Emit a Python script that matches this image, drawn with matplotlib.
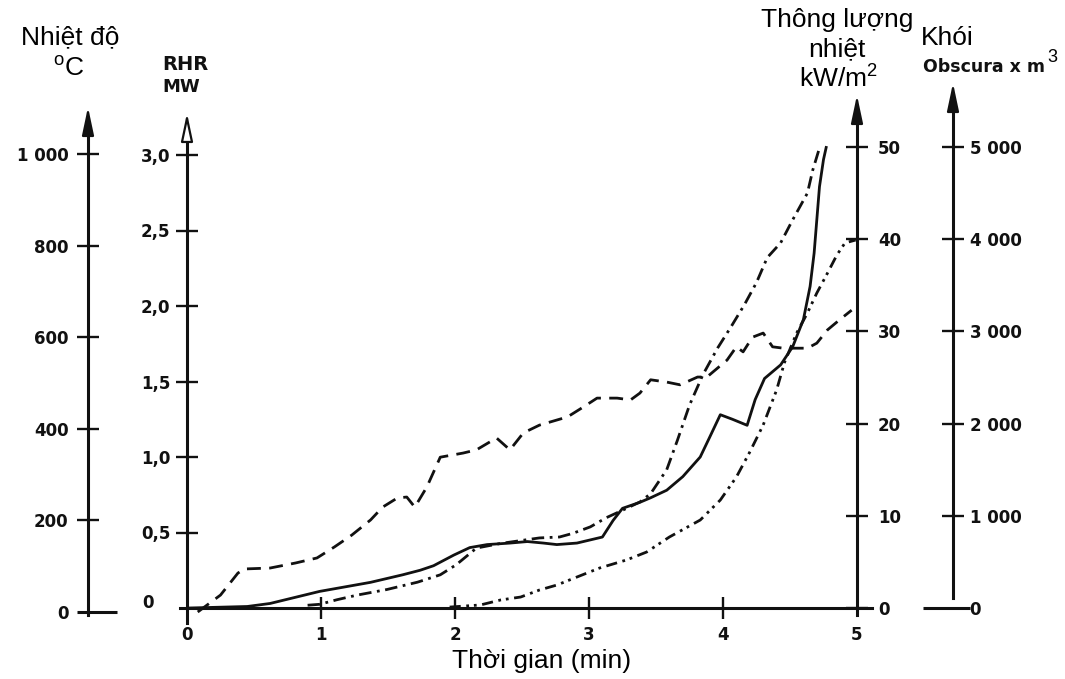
import matplotlib
matplotlib.use("Agg")
import matplotlib.pyplot as plt

# ---------------------------------------------------------------- data
# Temperature (°C) – dashed
time_temp = [0.08, 0.25, 0.38, 0.43, 0.62, 0.81, 0.97, 1.10, 1.23, 1.37, 1.46,
             1.57, 1.64, 1.70, 1.79, 1.89, 2.06, 2.16, 2.31, 2.41, 2.51, 2.63,
             2.84, 2.96, 3.06, 3.21, 3.31, 3.38, 3.46, 3.58, 3.68, 3.81, 3.88,
             4.03, 4.10, 4.15, 4.22, 4.30, 4.37, 4.45, 4.63, 4.70, 4.78, 4.87,
             4.96]
temp = [0, 37, 85, 94, 96, 107, 118, 142, 168, 201, 229,
        249, 251, 229, 273, 338, 347, 354, 380, 354, 391, 408,
        426, 448, 467, 467, 463, 478, 507, 502, 496, 513, 513,
        550, 579, 568, 600, 609, 579, 576, 576, 587, 616, 638,
        659]

# Rate of heat release (MW) – solid
time_rhr = [0.02, 0.45, 0.62, 0.99, 1.37, 1.61, 1.74, 1.84, 1.99, 2.11, 2.24,
            2.41, 2.54, 2.66, 2.76, 2.91, 3.10, 3.18, 3.25, 3.38, 3.46, 3.58,
            3.70, 3.83, 3.90, 3.98, 4.07, 4.18, 4.24, 4.31, 4.43, 4.52, 4.60,
            4.65, 4.68, 4.70, 4.72, 4.75, 4.77]
rhr = [0.0, 0.01, 0.03, 0.11, 0.17, 0.22, 0.25, 0.28, 0.35, 0.40, 0.42,
       0.43, 0.44, 0.43, 0.42, 0.43, 0.47, 0.58, 0.66, 0.70, 0.73, 0.78,
       0.87, 1.00, 1.13, 1.28, 1.25, 1.21, 1.38, 1.52, 1.61, 1.73, 1.91,
       2.13, 2.35, 2.57, 2.79, 2.97, 3.05]

# Heat flux (kW/m²) – dash-dot
time_flux = [0.90, 0.99, 1.12, 1.27, 1.49, 1.72, 1.89, 2.01, 2.16, 2.34, 2.63,
             2.78, 2.88, 3.01, 3.13, 3.25, 3.38, 3.46, 3.58, 3.66, 3.75, 3.85,
             3.96, 4.06, 4.16, 4.25, 4.33, 4.43, 4.52, 4.63, 4.67, 4.72]
flux = [0.3, 0.4, 0.9, 1.4, 2.0, 2.8, 3.6, 4.7, 6.5, 7.0, 7.6,
        7.7, 8.1, 8.8, 9.8, 10.6, 11.5, 12.4, 15.0, 18.2, 22.0, 25.3,
        28.2, 30.5, 32.9, 35.3, 38.0, 39.6, 42.1, 45.0, 47.5, 49.9]

# Smoke (obscura x m³) – dash-dot-dot
time_smoke = [1.96, 2.19, 2.34, 2.49, 2.63, 2.76, 2.91, 3.08, 3.28, 3.43, 3.60,
              3.83, 3.98, 4.10, 4.20, 4.30, 4.40, 4.46, 4.55, 4.63, 4.70, 4.78,
              4.85, 4.91, 4.99]
smoke = [10, 33, 87, 119, 195, 249, 336, 434, 521, 607, 770,
         954, 1171, 1421, 1692, 1985, 2364, 2668, 2983, 3200, 3416, 3633,
         3829, 3959, 3991]

# ---------------------------------------------------------------- ticks
time_ticks = [0, 1, 2, 3, 4, 5]
time_labels = ["0", "1", "2", "3", "4", "5"]
temp_ticks = [0, 200, 400, 600, 800, 1000]
temp_labels = ["0", "200", "400", "600", "800", "1 000"]
rhr_ticks = [0.5, 1.0, 1.5, 2.0, 2.5, 3.0]
rhr_labels = ["0,5", "1,0", "1,5", "2,0", "2,5", "3,0"]
flux_ticks = [0, 10, 20, 30, 40, 50]
flux_labels = ["0", "10", "20", "30", "40", "50"]
smoke_ticks = [0, 1000, 2000, 3000, 4000, 5000]
smoke_labels = ["0", "1 000", "2 000", "3 000", "4 000", "5 000"]

# ---------------------------------------------------------------- layout
W, H, DPI = 1065, 679, 100
PLOT_L, PLOT_R = 187, 857          # pixel columns of t = 0 and t = 5
BOX_T, BOX_B = 60, 640             # vertical extent of the drawing boxes
INK = "#111111"
AXIS_LW = 2.2
CURVE_LW = 2.0
TICK_LEN = 16
TICK_W = 1.7
TICK_FONT = dict(fontsize=12, fontweight="bold", color=INK,
                 fontfamily="DejaVu Sans")
TITLE_FONT = dict(fontsize=19, color="black", fontfamily="Liberation Sans")
UNIT_FONT = dict(fontweight="bold", color=INK, fontfamily="DejaVu Sans")

plt.rcParams["lines.scale_dashes"] = False
plt.rcParams["mathtext.fontset"] = "custom"
plt.rcParams["mathtext.rm"] = "Liberation Sans"

fig = plt.figure(figsize=(W / DPI, H / DPI), dpi=DPI)
fig.patch.set_facecolor("white")


def ax_frac(px):
    return (px - PLOT_L) / (PLOT_R - PLOT_L)


def fx(px):
    return px / W


def fy(py):
    return 1 - py / H


def scale_axes(zero_px, top_px, top_val):
    ax = fig.add_axes([PLOT_L / W, 1 - BOX_B / H,
                       (PLOT_R - PLOT_L) / W, (BOX_B - BOX_T) / H])
    k = (zero_px - top_px) / top_val
    ax.set_xlim(0, 5)
    ax.set_ylim((zero_px - BOX_B) / k, (zero_px - BOX_T) / k)
    ax.patch.set_visible(False)
    for s in ax.spines.values():
        s.set_visible(False)
    ax.set_xticks([])

    def val(py):
        return (zero_px - py) / k
    return ax, val


def axis_arrow(ax, xa, tip_val, base_val, filled=True):
    ax.annotate("", xy=(xa, tip_val), xytext=(xa, base_val),
                xycoords=ax.get_yaxis_transform(),
                annotation_clip=False,
                arrowprops=dict(arrowstyle="-|>,head_length=1.7,head_width=0.36",
                                mutation_scale=10, lw=1.6,
                                fc=INK if filled else "white", ec=INK,
                                shrinkA=0, shrinkB=0))


def vertical_axis(ax, val, spine_px, side, bottom_px, tip_px, ticks, labels,
                  pad, filled=True):
    sp = ax.spines[side]
    sp.set_visible(True)
    sp.set_position(("axes", ax_frac(spine_px)))
    sp.set_bounds(val(bottom_px), val(tip_px + 12))
    sp.set_linewidth(AXIS_LW)
    sp.set_color(INK)
    ax.yaxis.set_ticks_position(side)
    ax.set_yticks(ticks, labels, **TICK_FONT)
    ax.tick_params(axis="y", direction="inout", length=TICK_LEN, width=TICK_W,
                   color=INK, pad=pad,
                   left=(side == "left"), right=(side == "right"),
                   labelleft=(side == "left"), labelright=(side == "right"))
    axis_arrow(ax, ax_frac(spine_px), val(tip_px), val(tip_px + 26), filled)


# ---------------------------------------------------------------- temperature axis
ax_t, val_t = scale_axes(612, 154, 1000)
vertical_axis(ax_t, val_t, 88, "left", 615, 107, temp_ticks, temp_labels, 6)
ax_t.yaxis.get_major_ticks()[0].tick1line.set_visible(False)
ax_t.plot([ax_frac(77), ax_frac(117)], [0, 0], color=INK, lw=AXIS_LW,
          transform=ax_t.get_yaxis_transform(), clip_on=False,
          solid_capstyle="butt")

# ---------------------------------------------------------------- RHR axis + time axis
ax_r, val_r = scale_axes(608, 155, 3.0)
vertical_axis(ax_r, val_r, PLOT_L, "left", 623, 113, rhr_ticks, rhr_labels, 4,
              filled=False)
ax_r.text(ax_frac(148), 0.03, "0", transform=ax_r.get_yaxis_transform(),
          ha="center", va="center", **TICK_FONT)

xs = ax_r.spines["bottom"]
xs.set_visible(True)
xs.set_position(("data", 0))
xs.set_bounds(-0.05, 5.11)
xs.set_linewidth(AXIS_LW)
xs.set_color(INK)
ax_r.set_xticks(time_ticks, time_labels, **TICK_FONT)
ax_r.tick_params(axis="x", direction="inout", length=TICK_LEN, width=TICK_W,
                 color=INK, pad=5)
for i in (0, len(time_ticks) - 1):
    ax_r.xaxis.get_major_ticks()[i].tick1line.set_visible(False)

# ---------------------------------------------------------------- heat flux axis
ax_f, val_f = scale_axes(608, 147, 50)
vertical_axis(ax_f, val_f, PLOT_R, "right", 615, 95, flux_ticks, flux_labels, 7)

# ---------------------------------------------------------------- smoke axis
ax_s, val_s = scale_axes(608, 147, 5000)
vertical_axis(ax_s, val_s, 953, "right", 598, 83, smoke_ticks, smoke_labels, 4)
ax_s.yaxis.get_major_ticks()[0].tick2line.set_visible(False)
ax_s.plot([ax_frac(923), ax_frac(970)], [0, 0], color=INK, lw=AXIS_LW,
          transform=ax_s.get_yaxis_transform(), clip_on=False,
          solid_capstyle="butt")

# ---------------------------------------------------------------- curves
common = dict(color=INK, lw=CURVE_LW, clip_on=False,
              dash_capstyle="butt", solid_joinstyle="round")
ax_t.plot(time_temp, temp, linestyle=(0, (10, 6)), **common)
ax_r.plot(time_rhr, rhr, linestyle="-", **common)
ax_f.plot(time_flux, flux, linestyle=(0, (9, 4, 2, 4)), **common)
ax_s.plot(time_smoke, smoke, linestyle=(0, (8, 4, 2, 3.5, 2, 4)), **common)

# ---------------------------------------------------------------- axis titles
fig.text(fx(70), fy(44), "Nhiệt độ", ha="center", va="baseline", **TITLE_FONT)
fig.text(fx(69), fy(76), r"$^{\mathrm{o}}$C", ha="center", va="baseline",
         **TITLE_FONT)
fig.text(fx(185), fy(70), "RHR", ha="center", va="baseline", fontsize=14,
         **UNIT_FONT)
fig.text(fx(181), fy(92), "MW", ha="center", va="baseline", fontsize=13,
         **UNIT_FONT)
fig.text(fx(837), fy(27), "Thông lượng", ha="center", va="baseline",
         **TITLE_FONT)
fig.text(fx(837), fy(56), "nhiệt", ha="center", va="baseline", **TITLE_FONT)
fig.text(fx(838), fy(87), r"kW/m$^2$", ha="center", va="baseline", **TITLE_FONT)
fig.text(fx(947), fy(45), "Khói", ha="center", va="baseline", **TITLE_FONT)
obs = fig.text(fx(923), fy(72), "Obscura x m", ha="left", va="baseline",
               fontsize=12.5, **UNIT_FONT)
# superscript placed right after the measured end of the unit text
fig.canvas.draw()
obs_box = obs.get_window_extent()
fig.text((obs_box.x1 + 2) / W, fy(62), "3", fontsize=13,
         fontfamily="Liberation Sans", color="black", ha="left",
         va="baseline")
fig.text(fx(542), fy(668), "Thời gian (min)", ha="center", va="baseline",
         **TITLE_FONT)

fig.savefig("out.png", dpi=DPI, facecolor="white")
